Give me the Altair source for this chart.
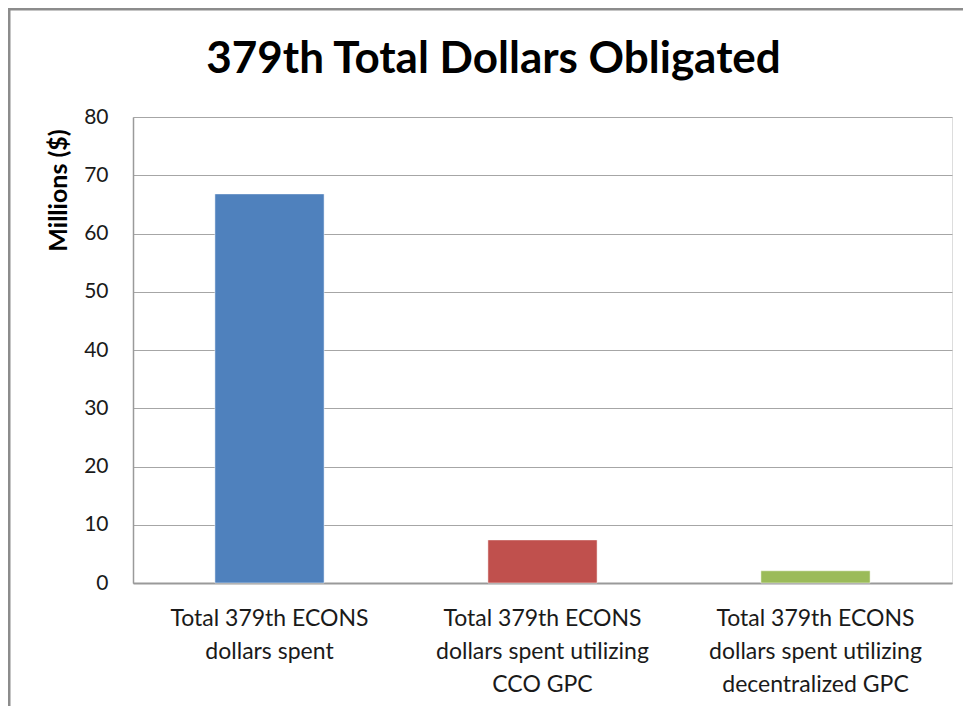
import altair as alt
import pandas as pd

categories = [
    "Total 379th ECONS|dollars spent",
    "Total 379th ECONS|dollars spent utilizing|CCO GPC",
    "Total 379th ECONS|dollars spent utilizing|decentralized GPC",
]
values = [66.8, 7.4, 2.1]
colors = ["#4F81BD", "#C0504D", "#9BBB59"]
y_ticks = [0, 10, 20, 30, 40, 50, 60, 70, 80]

df = pd.DataFrame({"category": categories, "value": values, "color": colors})
FONT = "Lato"

bars = alt.Chart(df).mark_bar(stroke="white", strokeWidth=0.5).encode(
    x=alt.X(
        "category:N",
        sort=categories,
        scale=alt.Scale(paddingInner=0.6, paddingOuter=0.3),
        axis=alt.Axis(
            title=None,
            labelAngle=0,
            labelExpr="split(datum.label, '|')",
            labelFont=FONT,
            labelFontSize=23,
            labelLineHeight=33,
            labelLimit=400,
            labelColor="#1a1a1a",
            labelPadding=24,
            ticks=False,
            domainColor="#9a9a9a",
            domainWidth=2,
            grid=False,
        ),
    ),
    y=alt.Y(
        "value:Q",
        scale=alt.Scale(domain=[0, 80], nice=False),
        axis=alt.Axis(
            title="Millions ($)",
            titleFont=FONT,
            titleFontSize=25,
            titleFontWeight="bold",
            titleColor="#000000",
            titleX=-62,
            titleY=73,
            titleAlign="center",
            titleAngle=270,
            values=y_ticks,
            labelFont=FONT,
            labelFontSize=21,
            labelColor="#1a1a1a",
            labelPadding=25,
            ticks=False,
            domainColor="#9a9a9a",
            domainWidth=1.5,
            gridColor="#a6a6a6",
            gridWidth=1.2,
        ),
    ),
    color=alt.Color("color:N", scale=None, legend=None),
)

frame = alt.Chart(pd.DataFrame({"f": [0]})).mark_rect(
    filled=False, stroke="#8c8c8c", strokeWidth=3
).encode(
    x=alt.value(-124),
    y=alt.value(-108),
    x2=alt.value(900),
    y2=alt.value(700),
)

chart = alt.layer(frame, bars).properties(
    width=819,
    height=466,
    padding={"left": 125, "top": 109, "right": 11, "bottom": 123},
    autosize=alt.AutoSizeParams(type="none"),
    title=alt.TitleParams(
        text="379th Total Dollars Obligated",
        font=FONT,
        fontSize=44,
        fontWeight="bold",
        color="#000000",
        anchor="middle",
        dx=-49,
        dy=102,
        offset=28,
    ),
).configure_view(stroke=None).configure(background="white")

chart.save("out.html", embed_options={"renderer": "svg", "actions": False})
